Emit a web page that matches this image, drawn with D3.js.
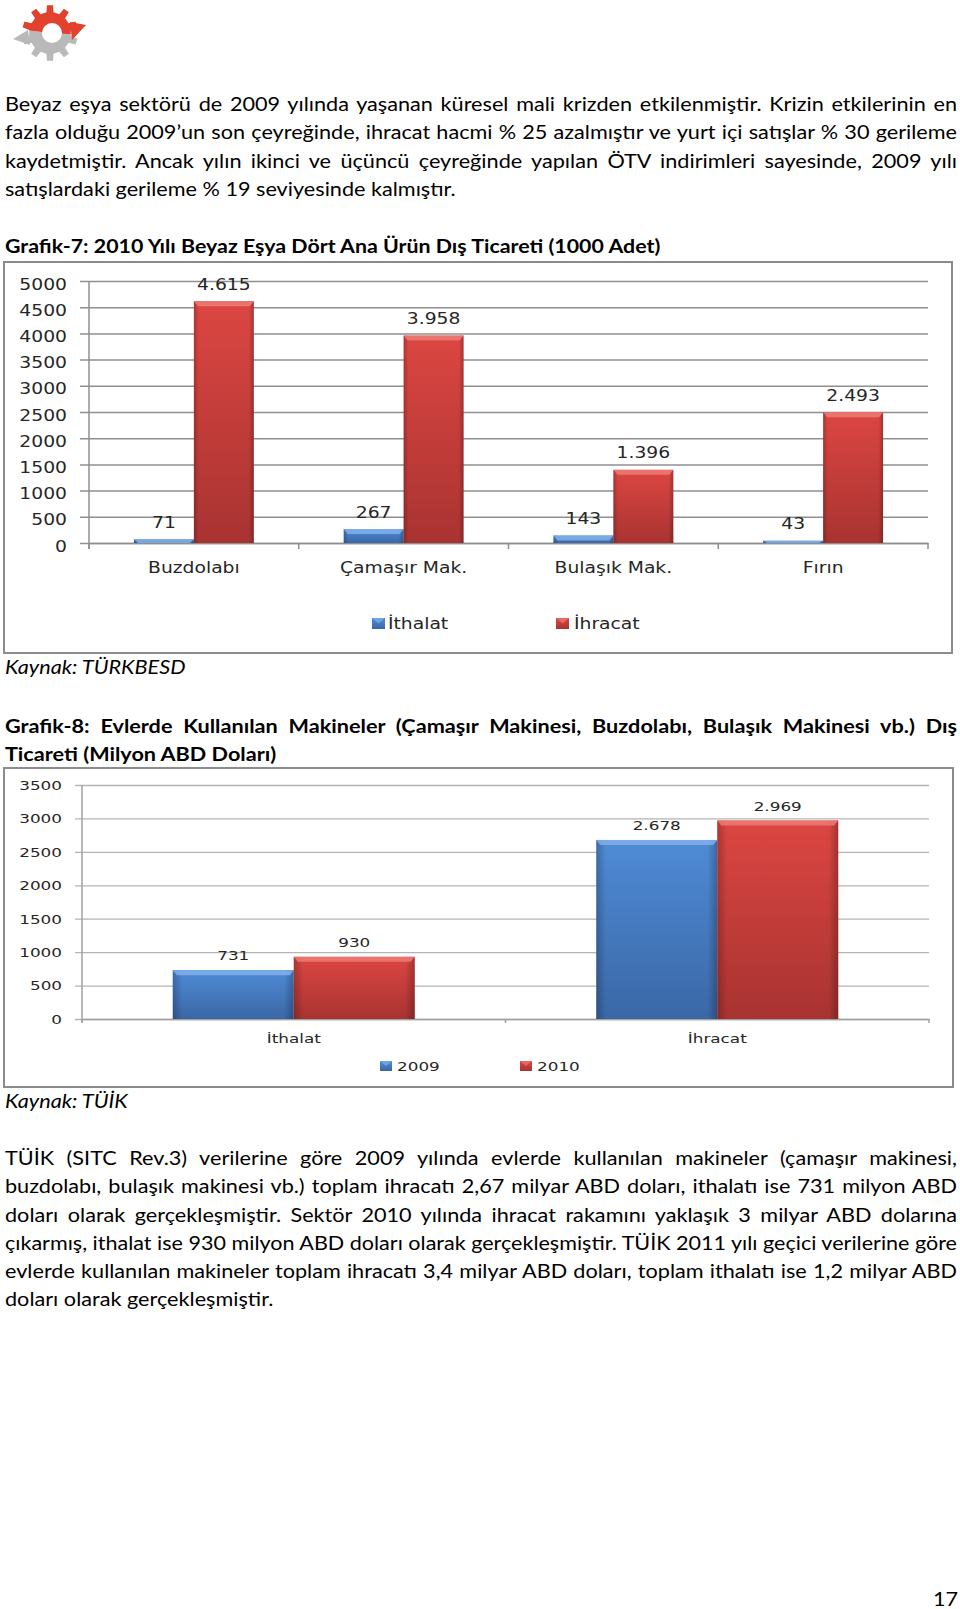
<!DOCTYPE html>
<html><head><meta charset="utf-8">
<script src="https://cdn.jsdelivr.net/npm/d3@7"></script>
<style>
html,body{margin:0;padding:0;background:#fff;}
svg{display:block;}
</style></head><body>
<svg id="page" width="960" height="1609"></svg>
<script>
// ---------------- DATA ----------------
const para1Lines = [
  "Beyaz eşya sektörü de 2009 yılında yaşanan küresel mali krizden etkilenmiştir. Krizin etkilerinin en",
  "fazla olduğu 2009’un son çeyreğinde, ihracat hacmi % 25 azalmıştır ve yurt içi satışlar % 30 gerileme",
  "kaydetmiştir. Ancak yılın ikinci ve üçüncü çeyreğinde yapılan ÖTV indirimleri sayesinde, 2009 yılı",
  "satışlardaki gerileme % 19 seviyesinde kalmıştır."
];
const chart1TitleLines = ["Grafik-7: 2010 Yılı Beyaz Eşya Dört Ana Ürün Dış Ticareti (1000 Adet)"];
const chart1Categories = ["Buzdolabı", "Çamaşır Mak.", "Bulaşık Mak.", "Fırın"];
const chart1SeriesNames = ["İthalat", "İhracat"];
const chart1Ithalat = [71, 267, 143, 43];
const chart1Ihracat = [4615, 3958, 1396, 2493];
const chart1Ticks = [0, 500, 1000, 1500, 2000, 2500, 3000, 3500, 4000, 4500, 5000];
const chart1Source = "Kaynak: TÜRKBESD";

const chart2TitleLines = [
  "Grafik-8: Evlerde Kullanılan Makineler (Çamaşır Makinesi, Buzdolabı, Bulaşık Makinesi vb.) Dış",
  "Ticareti (Milyon ABD Doları)"
];
const chart2Categories = ["İthalat", "İhracat"];
const chart2SeriesNames = ["2009", "2010"];
const chart2Values2009 = [731, 2678];
const chart2Values2010 = [930, 2969];
const chart2Ticks = [0, 500, 1000, 1500, 2000, 2500, 3000, 3500];
const chart2Source = "Kaynak: TÜİK";

const para2Lines = [
  "TÜİK (SITC Rev.3) verilerine göre 2009 yılında evlerde kullanılan makineler (çamaşır makinesi,",
  "buzdolabı, bulaşık makinesi vb.) toplam ihracatı 2,67 milyar ABD doları, ithalatı ise 731 milyon ABD",
  "doları olarak gerçekleşmiştir. Sektör 2010 yılında ihracat rakamını yaklaşık 3 milyar ABD dolarına",
  "çıkarmış, ithalat ise 930 milyon ABD doları olarak gerçekleşmiştir. TÜİK 2011 yılı geçici verilerine göre",
  "evlerde kullanılan makineler toplam ihracatı 3,4 milyar ABD doları, toplam ithalatı ise 1,2 milyar ABD",
  "doları olarak gerçekleşmiştir."
];
const pageNumber = "17";

// ---------------- HELPERS ----------------
const svg = d3.select("#page");
const FONT_BODY = "Lato, 'Noto Sans', 'Liberation Sans', sans-serif";
const FONT_CHART = "'DejaVu Sans', Verdana, sans-serif";
const BODY_K = 1.14;   // horizontal stretch of the body text
const trFormat = d3.formatLocale({decimal: ",", thousands: ".", grouping: [3], currency: ["", ""]}).format(",d");

function justify(t, W) {
  const w = t.node().getComputedTextLength();
  const n = (t.text().match(/ /g) || []).length;
  if (w < W && n) t.style("word-spacing", ((W - w) / n) + "px");
  else if (w > W) t.attr("textLength", W).attr("lengthAdjust", "spacingAndGlyphs");
}
function paragraph(lines, x, y0, lh, right, o = {}) {
  const k = o.k || BODY_K;
  const g = svg.append("g").attr("transform", `scale(${k},1)`);
  lines.forEach((ln, i) => {
    const t = g.append("text").attr("x", x / k).attr("y", y0 + i * lh)
      .attr("font-family", FONT_BODY).attr("font-size", o.size || 19)
      .attr("font-weight", o.weight || 400).attr("font-style", o.style || "normal")
      .attr("fill", "#000").text(ln);
    if (i < lines.length - 1) justify(t, (right - x) / k);
  });
}
function stretch(sel, k) {
  sel.each(function () {
    const w = this.getComputedTextLength();
    d3.select(this).attr("textLength", w * k).attr("lengthAdjust", "spacingAndGlyphs");
  });
}

// gradients
const defs = svg.append("defs");
function vGrad(id, c1, c2) {
  const g = defs.append("linearGradient").attr("id", id).attr("x1", 0).attr("y1", 0).attr("x2", 0).attr("y2", 1);
  g.append("stop").attr("offset", "0%").attr("stop-color", c1);
  g.append("stop").attr("offset", "100%").attr("stop-color", c2);
}
vGrad("gBlue", "#4f8bd6", "#3a67a6");
vGrad("gRed", "#dc4642", "#a83331");
const edge = defs.append("linearGradient").attr("id", "gEdge").attr("x1", 0).attr("y1", 0).attr("x2", 1).attr("y2", 0);
[["0%", 0.22], ["8%", 0], ["92%", 0], ["100%", 0.25]].forEach(([o, a]) =>
  edge.append("stop").attr("offset", o).attr("stop-color", "#000").attr("stop-opacity", a));

// ---------------- LOGO ----------------
(function logo() {
  const cx = 50, cy = 33, n = 10, rIn = 21, rOut = 28;
  const pts = [];
  for (let k = 0; k < n; k++) {
    const a = k * 2 * Math.PI / n;
    pts.push([a - 0.17, rIn], [a - 0.11, rOut], [a + 0.11, rOut], [a + 0.17, rIn]);
  }
  const gear = d3.lineRadial().curve(d3.curveLinearClosed)(pts);
  defs.append("clipPath").attr("id", "clipTop").append("polygon")
    .attr("points", `0,0 120,0 120,37 ${cx},33 0,27`);
  defs.append("clipPath").attr("id", "clipBot").append("polygon")
    .attr("points", `0,27 ${cx},33 120,37 120,80 0,80`);
  const gb = svg.append("g").attr("clip-path", "url(#clipBot)");
  gb.append("path").attr("d", gear).attr("transform", `translate(${cx},${cy})`).attr("fill", "#b9b9b9");
  const gt = svg.append("g").attr("clip-path", "url(#clipTop)");
  gt.append("path").attr("d", gear).attr("transform", `translate(${cx},${cy})`).attr("fill", "#e2412e");
  svg.append("polygon").attr("points", "70,22 86,25 72,40").attr("fill", "#e2412e");
  svg.append("polygon").attr("points", "28,30 13,39 30,45").attr("fill", "#b9b9b9");
  svg.append("circle").attr("cx", cx + 2).attr("cy", cy).attr("r", 10).attr("fill", "#fff");
})();

// ---------------- CHART ----------------
function drawChart(c) {
  const g = svg.append("g").attr("font-family", FONT_CHART).style("color", "#262626");
  g.append("rect").attr("x", c.box.x).attr("y", c.box.y).attr("width", c.box.w).attr("height", c.box.h)
    .attr("fill", "#fff").attr("stroke", "#8c8c8c").attr("stroke-width", 2);

  const x0 = d3.scaleBand().domain(c.categories).range([c.left, c.right]);
  const x1 = d3.scaleBand().domain(c.series.map(s => s.name)).range([0, x0.bandwidth()]).paddingOuter(0.75);
  const y = d3.scaleLinear().domain([0, c.max]).range([c.bottom, c.top]);

  const ya = g.append("g").attr("transform", `translate(${c.left},0)`)
    .call(d3.axisLeft(y).tickValues(c.ticks).tickFormat(d3.format("d"))
      .tickSizeInner(-(c.right - c.left)).tickSizeOuter(0).tickPadding(c.labelPad));
  ya.attr("font-family", null).attr("font-size", c.fs);
  ya.select(".domain").remove();
  ya.selectAll(".tick line").attr("x1", -c.tickOut).attr("stroke", c.gridColor).attr("stroke-width", c.gridWidth);
  ya.selectAll(".tick text").attr("dy", c.yDy).attr("fill", "#262626");

  // y axis line
  g.append("line").attr("x1", c.left).attr("x2", c.left).attr("y1", c.top).attr("y2", c.bottom + c.tickDown)
    .attr("stroke", c.axisColor).attr("stroke-width", 1.5);

  // x axis
  const xa = g.append("g").attr("transform", `translate(0,${c.bottom})`)
    .call(d3.axisBottom(x0).tickSize(0).tickSizeOuter(0).tickPadding(c.catPad));
  xa.attr("font-family", null).attr("font-size", c.fs);
  xa.select(".domain").attr("stroke", c.axisColor).attr("stroke-width", 1.5);
  xa.selectAll(".tick text").attr("fill", "#262626");
  const bounds = [x0.range()[0]].concat(c.categories.map(d => x0(d) + x0.bandwidth()));
  g.selectAll(".btick").data(bounds).join("line").attr("class", "btick")
    .attr("x1", d => d).attr("x2", d => d).attr("y1", c.bottom).attr("y2", c.bottom + c.tickDown)
    .attr("stroke", c.axisColor).attr("stroke-width", 1.5);

  // bars
  const data = [];
  c.categories.forEach((cat, i) => c.series.forEach(s => data.push({cat, s: s.name, v: s.values[i], fill: s.fill, light: s.light})));
  const bg = g.append("g");
  data.forEach(d => {
    const bx = x0(d.cat) + x1(d.s), bw = x1.bandwidth(), by = y(d.v), bh = y(0) - y(d.v);
    bg.append("rect").attr("x", bx).attr("y", by).attr("width", bw).attr("height", bh).attr("fill", `url(#${d.fill})`);
    bg.append("rect").attr("x", bx).attr("y", by).attr("width", bw).attr("height", bh).attr("fill", "url(#gEdge)");
    const bev = Math.min(5, bh);
    bg.append("polygon").attr("points", `${bx},${by} ${bx + bw},${by} ${bx + bw - 4},${by + bev} ${bx + 4},${by + bev}`)
      .attr("fill", d.light).attr("opacity", 0.85);
  });
  // data labels
  g.append("g").selectAll("text").data(data).join("text")
    .attr("x", d => x0(d.cat) + x1(d.s) + x1.bandwidth() / 2)
    .attr("y", d => y(d.v) - c.labelGap)
    .attr("text-anchor", "middle").attr("font-size", c.fs).attr("fill", "#262626")
    .text(d => trFormat(d.v));

  // legend
  c.series.forEach((s, i) => {
    const L = c.legend[i];
    g.append("rect").attr("x", L.mx).attr("y", c.legendY - c.mh).attr("width", c.mw).attr("height", c.mh)
      .attr("fill", `url(#${s.fill})`);
    g.append("polygon").attr("points", `${L.mx},${c.legendY - c.mh} ${L.mx + c.mw},${c.legendY - c.mh} ${L.mx + c.mw / 2},${c.legendY - c.mh / 2}`)
      .attr("fill", s.light).attr("opacity", 0.7);
    g.append("text").attr("x", L.tx).attr("y", c.legendY).attr("font-size", c.fs).attr("fill", "#262626").text(s.name);
  });

  g.selectAll("text").call(stretch, c.k);
}

// ---------------- PAGE ----------------
paragraph(para1Lines, 5, 111, 28.4, 957);
paragraph(chart1TitleLines, 5, 253, 28.4, 957, {weight: 700, k: 1.125});

drawChart({
  box: {x: 4, y: 262, w: 948, h: 391},
  categories: chart1Categories,
  series: [
    {name: chart1SeriesNames[0], values: chart1Ithalat, fill: "gBlue", light: "#7fb0ea"},
    {name: chart1SeriesNames[1], values: chart1Ihracat, fill: "gRed", light: "#ec7b76"}
  ],
  ticks: chart1Ticks, max: 5000,
  left: 89, right: 928, top: 281, bottom: 543,
  fs: 16, k: 1.17, labelPad: 22, tickOut: 9, tickDown: 6, yDy: "0.5em",
  gridColor: "#8f8f8f", gridWidth: 1.5, axisColor: "#8f8f8f",
  catPad: 18.5, labelGap: 11.5,
  legend: [{mx: 372, tx: 388}, {mx: 556, tx: 574}], legendY: 629, mw: 13, mh: 11
});
paragraph([chart1Source], 5, 674, 28.4, 957, {style: "italic"});

paragraph(chart2TitleLines, 5, 733, 28, 957, {weight: 700});
drawChart({
  box: {x: 4, y: 768, w: 949, h: 319},
  categories: chart2Categories,
  series: [
    {name: chart2SeriesNames[0], values: chart2Values2009, fill: "gBlue", light: "#7fb0ea"},
    {name: chart2SeriesNames[1], values: chart2Values2010, fill: "gRed", light: "#ec7b76"}
  ],
  ticks: chart2Ticks, max: 3500,
  left: 82, right: 929, top: 785, bottom: 1019,
  fs: 12, k: 1.4, labelPad: 20, tickOut: 7, tickDown: 4, yDy: "0.36em",
  gridColor: "#b4b4b4", gridWidth: 1.3, axisColor: "#a0a0a0",
  catPad: 15.5, labelGap: 10,
  legend: [{mx: 380, tx: 397}, {mx: 520, tx: 537}], legendY: 1071, mw: 12, mh: 10
});
paragraph([chart2Source], 5, 1108, 28.4, 957, {style: "italic"});

paragraph(para2Lines, 5, 1165, 28.3, 957);

svg.append("g").attr("transform", `scale(${BODY_K},1)`).append("text")
  .attr("x", 958 / BODY_K).attr("y", 1606).attr("text-anchor", "end")
  .attr("font-family", FONT_BODY).attr("font-size", 19).attr("fill", "#000").text(pageNumber);
</script>
</body></html>
